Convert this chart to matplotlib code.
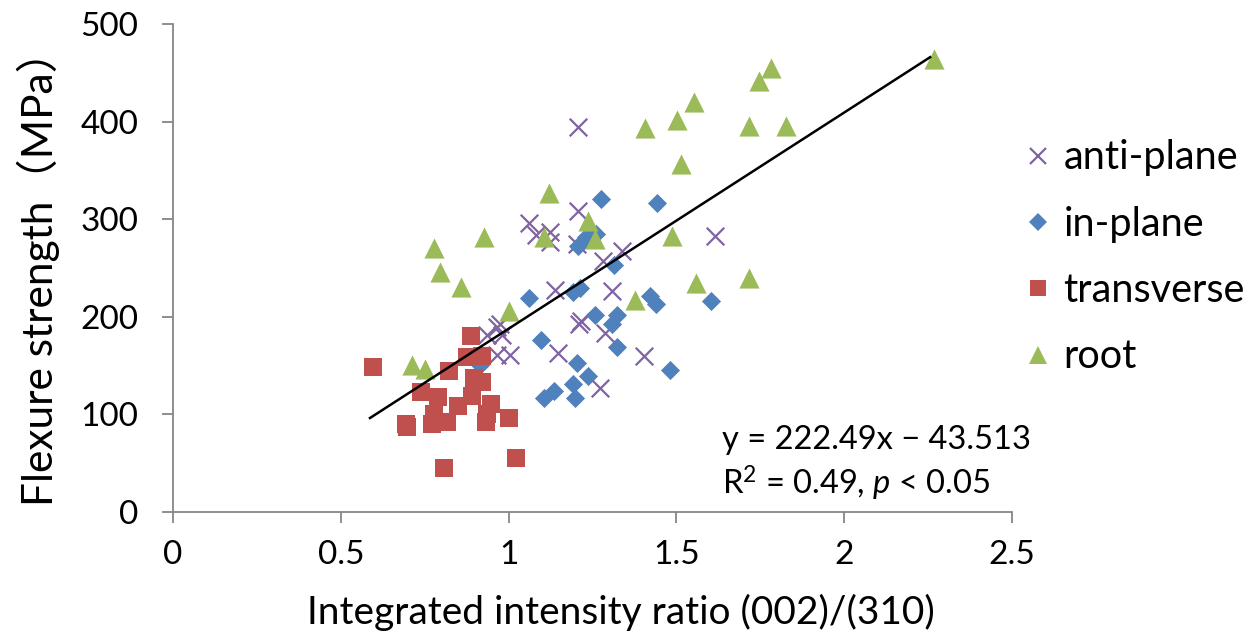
import matplotlib
matplotlib.use("Agg")
import matplotlib.pyplot as plt
from matplotlib.lines import Line2D

plt.rcParams['font.family'] = ['Lato', 'Noto Sans CJK SC', 'DejaVu Sans']
plt.rcParams['mathtext.fontset'] = 'custom'
plt.rcParams['mathtext.rm'] = 'Lato'
plt.rcParams['mathtext.it'] = 'Lato:italic'

# ---- data ----
anti_x = [1.208, 1.206, 1.062, 1.082, 1.123, 1.123, 1.203, 1.337, 1.282, 1.615, 1.138, 1.307,
          1.211, 1.215, 1.287, 1.146, 1.403, 1.272, 0.935, 0.965, 0.979, 0.965, 1.005, 0.975]
anti_y = [394, 308, 296, 284, 287, 277, 275, 267, 257, 283, 227, 226,
          193, 196, 183, 163, 160, 127, 181, 190, 181, 161, 161, 193]

in_x = [1.275, 1.441, 1.062, 1.206, 1.231, 1.26, 1.315, 1.193, 1.213, 1.256, 1.322, 1.307,
        1.421, 1.438, 1.602, 1.097, 1.322, 1.203, 1.481, 1.238, 1.191, 1.136, 1.104, 1.198, 0.915]
in_y = [321, 317, 219, 273, 282, 285, 253, 225, 229, 202, 202, 193,
        221, 213, 216, 176, 169, 153, 146, 139, 131, 124, 117, 117, 151]

trans_x = [0.596, 0.887, 0.875, 0.92, 0.822, 0.898, 0.92, 0.738, 0.79, 0.892, 0.85, 0.947,
           0.778, 0.935, 0.817, 0.773, 0.694, 0.696, 1.002, 1.021, 0.807, 0.933]
trans_y = [148.6, 180.6, 159, 160, 144.8, 137, 133.5, 123, 117.5, 119, 109, 110.6,
           100, 100.4, 92, 90, 90, 87, 96.6, 55, 45.4, 92.5]

root_x = [2.268, 1.782, 1.747, 1.552, 1.503, 1.407, 1.716, 1.827, 1.513, 1.237, 1.257, 1.487,
          1.557, 1.717, 1.378, 0.777, 0.927, 1.105, 0.797, 0.857, 1.002, 0.711, 0.751, 1.121]
root_y = [463.8, 454.6, 442, 420, 401.6, 393.7, 395.5, 395.5, 357, 298.5, 279.4, 282.8,
          235, 240, 217.2, 270, 282, 282, 246, 231, 206, 150.6, 147, 326.5]

trend_x = [0.587, 2.256]
trend_y = [96.3, 466.0]

series_names = ["anti-plane", "in-plane", "transverse", "root"]
x_ticks = [0, 0.5, 1, 1.5, 2, 2.5]
x_tick_labels = ["0", "0.5", "1", "1.5", "2", "2.5"]
y_ticks = [0, 100, 200, 300, 400, 500]

c_anti = '#8064A2'
c_in = '#4F81BD'
c_trans = '#C0504D'
c_root = '#9BBB59'
axis_gray = '#868686'

fig = plt.figure(figsize=(12.58, 6.42), dpi=100)
ax = fig.add_axes([173/1258, 1 - 512/642, (1012-173)/1258, (512-24)/642])

ax.scatter(anti_x, anti_y, marker='x', s=160, color=c_anti, linewidths=1.6, zorder=3)
ax.scatter(in_x, in_y, marker='D', s=95, color=c_in, linewidths=0, zorder=4)
ax.scatter(trans_x, trans_y, marker='s', s=150, color=c_trans, linewidths=0, zorder=5)
ax.scatter(root_x, root_y, marker='^', s=210, color=c_root, linewidths=0, zorder=6)
ax.plot(trend_x, trend_y, color='black', linewidth=1.8, zorder=7)

ax.set_xlim(0, 2.5)
ax.set_ylim(0, 500)
ax.set_xticks(x_ticks)
ax.set_xticklabels(x_tick_labels)
ax.set_yticks(y_ticks)
for s in ['top', 'right']:
    ax.spines[s].set_visible(False)
for s in ['left', 'bottom']:
    ax.spines[s].set_color(axis_gray)
    ax.spines[s].set_linewidth(1.3)
ax.tick_params(axis='both', direction='out', length=8, width=1.3, color=axis_gray,
               labelsize=24, labelcolor='black')
ax.tick_params(axis='x', pad=12)
ax.tick_params(axis='y', pad=17)

ax.set_xlabel("Integrated intensity ratio (002)/(310)", fontsize=28)
ax.xaxis.set_label_coords((621-173)/839, -(612-512)/488, transform=ax.transAxes)
ax.xaxis.label.set_va('center')
ax.set_ylabel("Flexure strength（MPa）", fontsize=30.5)
ax.yaxis.set_label_coords(-(173-38)/839, 0.5, transform=ax.transAxes)
ax.yaxis.label.set_va('center')

fig.text(722/1258, 1 - 440/642, "y = 222.49x \u2212 43.513", fontsize=23.5, va='center', ha='left')
fig.text(722/1258, 1 - 483/642, r"R$^{2}$ = 0.49, $\it{p}$ < 0.05", fontsize=23.5, va='center', ha='left')

handles = [
    Line2D([], [], linestyle='none', marker='x', markersize=12, color=c_anti, markeredgewidth=1.6),
    Line2D([], [], linestyle='none', marker='D', markersize=9, color=c_in, markeredgewidth=0),
    Line2D([], [], linestyle='none', marker='s', markersize=11, color=c_trans, markeredgewidth=0),
    Line2D([], [], linestyle='none', marker='^', markersize=13, color=c_root, markeredgewidth=0),
]
fig.legend(handles, series_names, loc='upper left', bbox_to_anchor=(1024/1258, 1 - 139.5/642),
           frameon=False, fontsize=28.5, handlelength=0.7, handletextpad=0.3,
           labelspacing=0.74, borderaxespad=0, borderpad=0)

fig.savefig("out.png", dpi=100)
